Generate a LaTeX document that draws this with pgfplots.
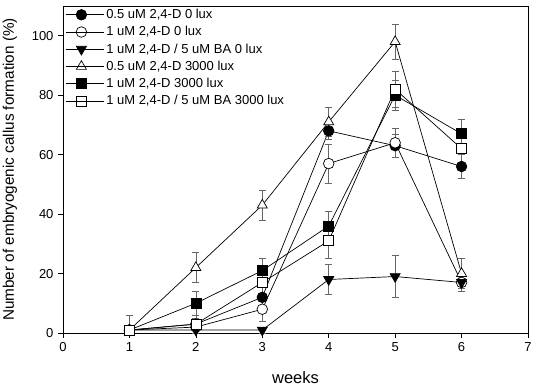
\documentclass[border=0pt]{standalone}
\usepackage{fontspec}
\setmainfont{Liberation Sans}
\usepackage{pgfplots}
\pgfplotsset{compat=1.18}
\begin{document}
\begin{tikzpicture}
\begin{axis}[
  name=ax,
  scale only axis,
  width=465bp, height=327bp,
  xmin=0, xmax=7, ymin=0, ymax=110,
  xtick={0,1,...,7}, ytick={0,20,...,100},
  tick align=outside, tick pos=left,
  major tick length=5bp,
  every tick/.style={black, line width=0.6bp},
  axis line style={line width=0.8bp},
  /pgf/number format/assume math mode=true,
  tick label style={font=\fontsize{13bp}{15bp}\selectfont},
  xticklabel style={yshift=-1bp},
  yticklabel style={xshift=-1bp},
  xlabel={weeks},
  ylabel={Number of embryogenic callus formation (\%)},
  xlabel style={font=\fontsize{16.5bp}{18bp}\selectfont, at={(axis description cs:0.5,-0.153)}, anchor=base},
  ylabel style={font=\fontsize{15.3bp}{17bp}\selectfont, at={(axis description cs:-0.114,0.5)}, anchor=center},
  legend style={at={(axis description cs:0.004,0.998)}, anchor=north west, draw=none, fill=none,
    font=\fontsize{13bp}{15bp}\selectfont, row sep=3.3bp, inner sep=1bp,
    nodes={inner sep=1.5bp}},
  legend cell align=left,
  legend image code/.code={\draw[mark repeat=2,mark phase=2] plot coordinates {(0bp,0bp)(15bp,0bp)(30bp,0bp)};\path (0bp,0bp) -- (38bp,0bp);},
  every axis plot/.append style={black, line width=0.7bp},
  error bars/error bar style={black!60, line width=0.6bp},
  error bars/error mark options={black!60, mark size=3.5bp, rotate=90, line width=0.6bp},
]
% 0.5 uM 2,4-D 0 lux
\addplot[mark=*, mark size=5.3bp, mark options={fill=black}, error bars/.cd, y dir=both, y explicit]
  table[x=x, y=y, y error=e] {
x y e
1 1 1
2 3 2
3 12 4
4 68 3
5 63 4
6 56 4
};
\addlegendentry{0.5 uM 2,4-D 0 lux}
% 1 uM 2,4-D 0 lux
\addplot[mark=*, mark size=5.3bp, mark options={fill=white}, error bars/.cd, y dir=both, y explicit]
  table[x=x, y=y, y error=e] {
x y e
1 1 1
2 2 3
3 8 4
4 57 6.5
5 64 5
6 17 3
};
\addlegendentry{1 uM 2,4-D 0 lux}
% 1 uM 2,4-D / 5 uM BA 0 lux
\addplot[mark=triangle*, mark size=5.8bp, mark options={fill=black, rotate=180}, error bars/.cd, y dir=both, y explicit]
  table[x=x, y=y, y error=e] {
x y e
1 1 1
2 1 1
3 1 1
4 18 5
5 19 7
6 17 3
};
\addlegendentry{1 uM 2,4-D / 5 uM BA 0 lux}
% 0.5 uM 2,4-D 3000 lux
\addplot[mark=triangle*, mark size=5.8bp, mark options={fill=white}, error bars/.cd, y dir=both, y explicit]
  table[x=x, y=y, y error=e] {
x y e
1 1 5
2 22 5
3 43 5
4 71 5
5 98 6
6 20 5
};
\addlegendentry{0.5 uM 2,4-D 3000 lux}
% 1 uM 2,4-D 3000 lux
\addplot[mark=square*, mark size=5bp, mark options={fill=black}, error bars/.cd, y dir=both, y explicit]
  table[x=x, y=y, y error=e] {
x y e
1 1 1
2 10 4
3 21 4
4 36 5
5 80 5
6 67 5
};
\addlegendentry{1 uM 2,4-D 3000 lux}
% 1 uM 2,4-D / 5 uM BA 3000 lux
\addplot[mark=square*, mark size=5bp, mark options={fill=white}, error bars/.cd, y dir=both, y explicit]
  table[x=x, y=y, y error=e] {
x y e
1 1 5
2 3 3
3 17 5
4 31 6
5 82 6
6 62 5
};
\addlegendentry{1 uM 2,4-D / 5 uM BA 3000 lux}
\end{axis}
\pgfresetboundingbox
\path[use as bounding box] ([shift={(-63bp,-54bp)}]ax.south west) rectangle ([shift={(7bp,6bp)}]ax.north east);
\end{tikzpicture}
\end{document}
